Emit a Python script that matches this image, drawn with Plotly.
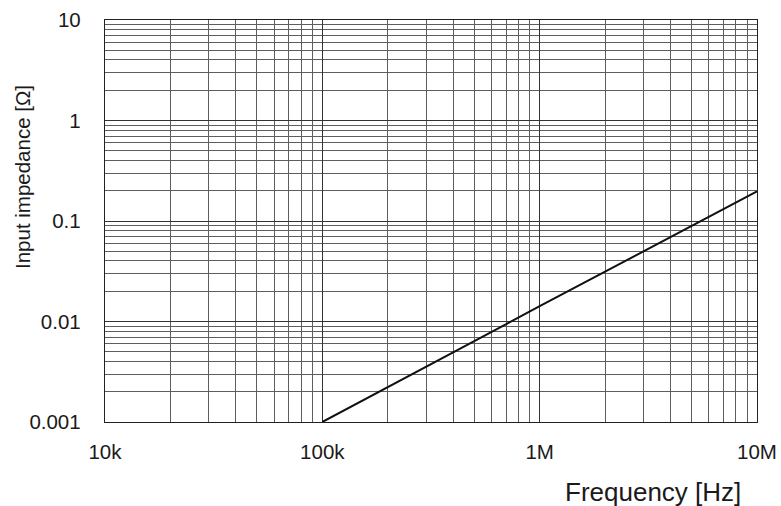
import plotly.graph_objects as go

# Data
frequency_hz = [1e5, 1e6, 1e7]
impedance_ohm = [0.001, 0.0142, 0.197]

x_tick_vals = [1e4, 1e5, 1e6, 1e7]
x_tick_text = ["10k", "100k", "1M", "10M"]
y_tick_vals = [0.001, 0.01, 0.1, 1, 10]
y_tick_text = ["0.001", "0.01", "0.1", "1", "10"]

x_minor = [m * 10 ** e for e in range(4, 7) for m in range(2, 10)]
y_minor = [m * 10.0 ** e for e in range(-3, 1) for m in range(2, 10)]

font_family = "Liberation Sans, Arial, sans-serif"

fig = go.Figure()
fig.add_trace(go.Scatter(
    x=frequency_hz, y=impedance_ohm, mode="lines",
    line=dict(color="#111111", width=2), showlegend=False,
))

axis_common = dict(
    type="log", automargin=False,
    showgrid=True, gridcolor="#333333", gridwidth=1.4,
    showline=True, linecolor="#222222", linewidth=1.4, mirror=True,
    zeroline=False,
    ticks="",
    tickfont=dict(family=font_family, size=20.5, color="#1a1a1a"),
)

fig.update_layout(
    width=781, height=506,
    margin=dict(l=105, r=24, t=20, b=84),
    paper_bgcolor="white", plot_bgcolor="white",
    xaxis=dict(
        **axis_common,
        range=[4, 7],
        tickmode="array", tickvals=x_tick_vals, ticktext=x_tick_text,
        ticklabelstandoff=11,
        minor=dict(tickmode="array", tickvals=x_minor, showgrid=True,
                   gridcolor="#5e5e5e", gridwidth=1),
    ),
    yaxis=dict(
        **axis_common,
        range=[-3, 1],
        tickmode="array", tickvals=y_tick_vals, ticktext=y_tick_text,
        ticklabelstandoff=19,
        minor=dict(tickmode="array", tickvals=y_minor, showgrid=True,
                   gridcolor="#5e5e5e", gridwidth=1),
    ),
    annotations=[
        dict(text="Frequency [Hz]", xref="paper", yref="paper",
             x=(743 - 105) / 652, y=-(492 - 422) / 402,
             xanchor="right", yanchor="middle", showarrow=False,
             font=dict(family=font_family, size=26, color="#1a1a1a")),
        dict(text="Input impedance [Ω]", xref="paper", yref="paper",
             x=-(105 - 22) / 652, y=(422 - 177) / 402,
             xanchor="center", yanchor="middle", textangle=-90, showarrow=False,
             font=dict(family=font_family, size=20.5, color="#1a1a1a")),
    ],
)

fig.write_html("out.html")
